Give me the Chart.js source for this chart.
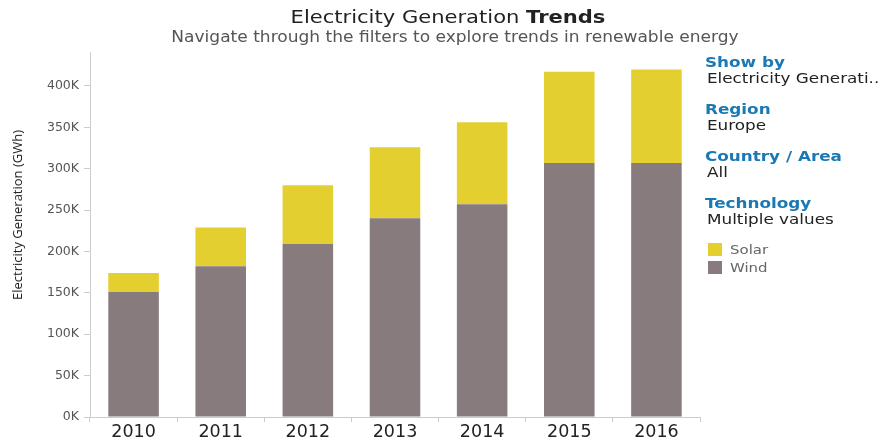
<!DOCTYPE html>
<html>
<head>
<meta charset="utf-8">
<script src="https://cdn.jsdelivr.net/npm/chart.js@4"></script>
<style>
  body { margin: 0; width: 884px; height: 441px; overflow: hidden; background: #fff; position: relative; }
  #wrap { position: absolute; left: 0; top: 0; width: 884px; height: 441px; }
  .title { position: absolute; left: 0; width: 896px; top: 4px; line-height: 25px; text-align: center; font-family: "DejaVu Sans", sans-serif; font-size: 18px; color: #222; transform: scaleX(1.17); transform-origin: 448px 0; }
  .subtitle { position: absolute; left: 0; width: 910px; top: 27px; line-height: 20px; text-align: center; font-family: "DejaVu Sans", sans-serif; font-size: 15.5px; color: #555; transform: scaleX(1.1); transform-origin: 455px 0; }
  .ytitle { position: absolute; left: 17px; top: 215px; transform: translate(-50%, -50%) rotate(-90deg); white-space: nowrap; font-family: "Open Sans", sans-serif; font-size: 13px; color: #222; }
  .panel { position: absolute; left: 705px; top: 54px; font-family: "DejaVu Sans", sans-serif; }
  .panel .h, .panel .v { transform: scaleX(1.2); transform-origin: 0 0; white-space: nowrap; }
  .panel .h { color: #1a78b4; font-weight: bold; font-size: 14px; line-height: 16px; }
  .panel .v { color: #222; font-size: 14px; line-height: 16px; margin-bottom: 15px; margin-left: 2px; }
  .legend { font-family: "DejaVu Sans", sans-serif; font-size: 13px; color: #666; margin-top: -2px; }
  .legend div { height: 18px; display: flex; align-items: center; }
  .legend span.sw { width: 14px; height: 13px; display: inline-block; margin: 0 8px 0 3px; }
  .legend span.tx { display: inline-block; transform: scaleX(1.15); transform-origin: 0 50%; }
</style>
</head>
<body>
<div id="wrap"><canvas id="chart" width="884" height="441"></canvas></div>
<div class="title">Electricity Generation <b>Trends</b></div>
<div class="subtitle">Navigate through the filters to explore trends in renewable energy</div>
<div class="ytitle">Electricity Generation (GWh)</div>
<div class="panel">
  <div class="h">Show by</div><div class="v">Electricity Generati..</div>
  <div class="h">Region</div><div class="v">Europe</div>
  <div class="h">Country / Area</div><div class="v">All</div>
  <div class="h">Technology</div><div class="v">Multiple values</div>
  <div class="legend" id="legend"></div>
</div>
<script>
const years = ['2010', '2011', '2012', '2013', '2014', '2015', '2016'];
const wind = [151000, 182000, 209000, 240000, 257000, 307000, 307000];
const solar = [23000, 47000, 71000, 86000, 99000, 110000, 113000];
const yTicks = [0, 50000, 100000, 150000, 200000, 250000, 300000, 350000, 400000];

const windColor = '#877b7d';
const solarColor = '#e4cf30';

const chart = new Chart(document.getElementById('chart'), {
  type: 'bar',
  data: {
    labels: years,
    datasets: [
      { label: 'Wind', data: wind, backgroundColor: windColor, barPercentage: 0.58, categoryPercentage: 1 },
      { label: 'Solar', data: solar, backgroundColor: solarColor, barPercentage: 0.58, categoryPercentage: 1 }
    ]
  },
  options: {
    responsive: false,
    animation: false,
    layout: { padding: { top: 52, right: 184, left: 0, bottom: 0 } },
    plugins: { legend: { display: false }, tooltip: { enabled: false } },
    scales: {
      x: {
        stacked: true,
        grid: { drawOnChartArea: false, tickLength: 5, color: '#ccc' },
        border: { color: '#ccc' },
        ticks: { color: '#222', font: { family: 'DejaVu Sans', size: 17.5 }, padding: 0 },
        afterFit: s => { s.height = 24; }
      },
      y: {
        stacked: true,
        min: 0,
        max: 441000,
        grid: { drawOnChartArea: false, tickLength: 6, color: '#ccc' },
        border: { color: '#ccc' },
        afterBuildTicks: s => { s.ticks = yTicks.map(v => ({ value: v })); },
        ticks: {
          color: '#555',
          font: { family: 'DejaVu Sans', size: 12.5 },
          padding: 5,
          callback: v => (v / 1000) + 'K'
        },
        afterFit: s => { s.width = 90; }
      }
    }
  }
});

// legend built from the datasets (Solar listed first)
const legend = document.getElementById('legend');
[...chart.data.datasets].reverse().forEach(ds => {
  const row = document.createElement('div');
  row.innerHTML = '<span class="sw" style="background:' + ds.backgroundColor + '"></span><span class="tx">' + ds.label + '</span>';
  legend.appendChild(row);
});
</script>
</body>
</html>
